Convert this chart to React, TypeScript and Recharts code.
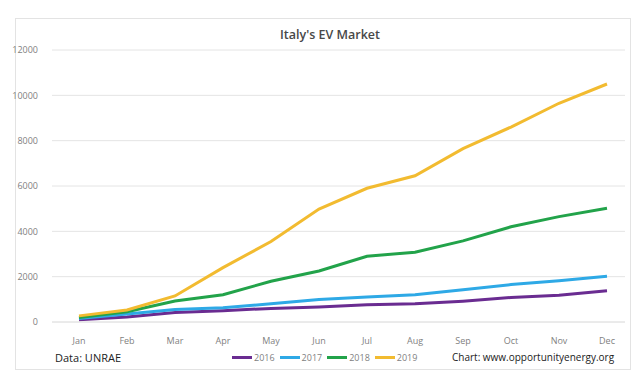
import { CartesianGrid, Line, LineChart, XAxis, YAxis } from 'recharts'

const months = ['Jan', 'Feb', 'Mar', 'Apr', 'May', 'Jun', 'Jul', 'Aug', 'Sep', 'Oct', 'Nov', 'Dec']
const ev2016 = [100, 220, 420, 500, 600, 660, 760, 800, 920, 1080, 1180, 1380]
const ev2017 = [150, 350, 550, 630, 800, 990, 1100, 1200, 1420, 1650, 1820, 2020]
const ev2018 = [200, 450, 930, 1200, 1800, 2250, 2900, 3080, 3580, 4200, 4650, 5020]
const ev2019 = [270, 530, 1150, 2400, 3550, 4980, 5900, 6450, 7650, 8600, 9650, 10500]
const yTicks = [0, 2000, 4000, 6000, 8000, 10000, 12000]

const series = [
  { key: 'y2016', name: '2016', color: '#6a2c91' },
  { key: 'y2017', name: '2017', color: '#2ea9e6' },
  { key: 'y2018', name: '2018', color: '#22a34a' },
  { key: 'y2019', name: '2019', color: '#f2bb30' },
]

const data = months.map((m, i) => ({
  month: m,
  y2016: ev2016[i],
  y2017: ev2017[i],
  y2018: ev2018[i],
  y2019: ev2019[i],
}))

const font = '"Open Sans", "Liberation Sans", sans-serif'

export default function App() {
  return (
    <div style={{ position: 'absolute', left: 0, top: 0, width: 640, height: 378, background: '#fff', fontFamily: font }}>
      <div
        style={{
          position: 'absolute',
          left: 15,
          top: 18,
          width: 616,
          height: 352,
          border: '1px solid #e3e3e3',
          boxSizing: 'border-box',
        }}
      />
      <div
        style={{
          position: 'absolute',
          left: 0,
          width: 660,
          top: 26,
          textAlign: 'center',
          fontSize: 12.5,
          fontWeight: 600,
          color: '#484848',
        }}
      >
        Italy's EV Market
      </div>
      <div style={{ position: 'absolute', left: 0, top: 0 }}>
        <LineChart width={640} height={378} data={data} margin={{ top: 50, right: 15, bottom: 30, left: 12 }}>
          <CartesianGrid vertical={false} stroke="#e4e4e4" />
          <XAxis
            dataKey="month"
            axisLine={{ stroke: '#e4e4e4' }}
            tickLine={false}
            tick={{ fill: '#7f7f7f', fontSize: 9, fontFamily: font }}
            padding={{ left: 27, right: 18 }}
            height={26}
            tickMargin={10}
            interval={0}
          />
          <YAxis
            domain={[0, 12000]}
            ticks={yTicks}
            axisLine={false}
            tickLine={false}
            tick={{ fill: '#7f7f7f', fontSize: 9, fontFamily: font }}
            width={40}
            tickMargin={8}
          />
          {series.map((s) => (
            <Line
              key={s.key}
              type="linear"
              dataKey={s.key}
              name={s.name}
              stroke={s.color}
              strokeWidth={3}
              dot={false}
              isAnimationActive={false}
            />
          ))}
        </LineChart>
      </div>
      <div style={{ position: 'absolute', left: 55, top: 350, fontSize: 11, color: '#222' }}>Data: UNRAE</div>
      <div style={{ position: 'absolute', left: 452, top: 350, fontSize: 10, color: '#222' }}>
        Chart: www.opportunityenergy.org
      </div>
      <div style={{ position: 'absolute', left: 232, top: 351, display: 'flex', alignItems: 'center', fontSize: 9, color: '#7f7f7f' }}>
        {series.map((s) => (
          <div key={s.key} style={{ display: 'flex', alignItems: 'center', marginRight: 5 }}>
            <div style={{ width: 20, height: 3, background: s.color, marginRight: 2 }} />
            <span>{s.name}</span>
          </div>
        ))}
      </div>
    </div>
  )
}
